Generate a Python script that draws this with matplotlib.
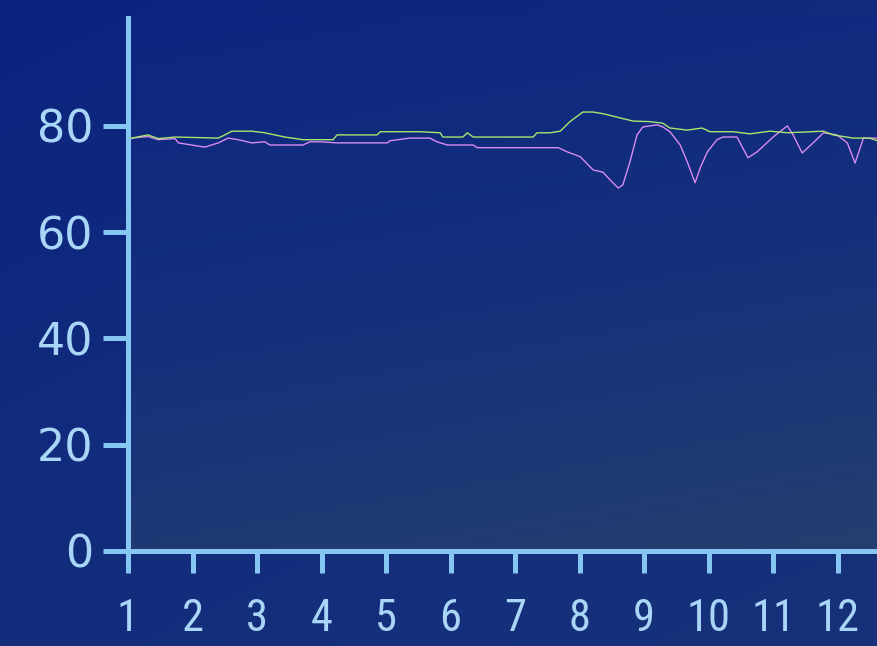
import numpy as np
import matplotlib
matplotlib.use("Agg")
import matplotlib.pyplot as plt
from matplotlib.colors import LinearSegmentedColormap
from matplotlib import font_manager

# Series values (x = month position, y = value)
green_x = [1.00, 1.06, 1.31, 1.47, 1.73, 2.40, 2.50, 2.61, 2.92, 3.12, 3.43, 3.71,
           4.18, 4.24, 4.86, 4.91, 5.53, 5.84, 5.88, 6.19, 6.26, 6.35, 7.28, 7.34,
           7.54, 7.70, 7.85, 8.05, 8.21, 8.36, 8.63, 8.83, 9.09, 9.29, 9.40, 9.67,
           9.90, 10.02, 10.38, 10.64, 10.95, 11.22, 11.78, 11.93, 12.24, 12.50, 12.66]
green_y = [77.5, 77.7, 78.3, 77.6, 77.9, 77.7, 78.3, 79.0, 79.0, 78.7, 77.9, 77.4,
           77.4, 78.3, 78.3, 78.9, 78.9, 78.7, 77.9, 77.9, 78.7, 77.9, 77.9, 78.7,
           78.7, 79.0, 80.8, 82.6, 82.6, 82.3, 81.5, 80.9, 80.8, 80.5, 79.6, 79.2,
           79.6, 78.9, 78.9, 78.5, 79.0, 78.7, 79.0, 78.3, 77.7, 77.7, 77.0]

magenta_x = [1.00, 1.06, 1.31, 1.47, 1.73, 1.78, 2.19, 2.40, 2.55, 2.71, 2.92, 3.12,
             3.20, 3.71, 3.82, 3.98, 4.24, 5.02, 5.06, 5.37, 5.68, 5.79, 5.95, 6.35,
             6.41, 7.67, 7.81, 8.01, 8.21, 8.36, 8.50, 8.60, 8.67, 8.78, 8.89, 8.98,
             9.20, 9.29, 9.40, 9.56, 9.67, 9.79, 9.87, 9.98, 10.13, 10.22, 10.44, 10.61,
             10.75, 11.00, 11.22, 11.31, 11.45, 11.62, 11.78, 11.99, 12.15, 12.27, 12.35,
             12.40, 12.66]
magenta_y = [77.0, 77.7, 78.0, 77.4, 77.6, 76.8, 76.0, 76.8, 77.7, 77.4, 76.8, 77.0,
             76.4, 76.4, 77.0, 77.0, 76.8, 76.8, 77.2, 77.7, 77.7, 77.0, 76.4, 76.4,
             75.9, 75.9, 75.1, 74.2, 71.7, 71.3, 69.5, 68.3, 68.9, 73.2, 78.3, 79.8,
             80.2, 79.8, 78.9, 76.4, 73.2, 69.3, 72.1, 75.1, 77.4, 77.9, 77.9, 74.0,
             75.1, 77.9, 80.0, 78.3, 74.9, 76.8, 78.7, 78.3, 76.8, 73.0, 75.9,
             77.7, 77.7]

x_ticks = list(range(1, 13))
y_ticks = [0, 20, 40, 60, 80]

axis_color = "#86c6f2"
label_color = "#a9d6f7"

# narrow font for the month labels if one is available
installed = {f.name for f in font_manager.fontManager.ttflist}
narrow = [n for n in ["Liberation Sans Narrow", "DejaVu Sans Condensed", "Roboto Condensed"]
          if n in installed]
if narrow:
    x_font = dict(family=[narrow[0], "DejaVu Sans"], fontsize=32)
else:
    x_font = dict(family=["Liberation Sans", "DejaVu Sans"], fontsize=29)

fig = plt.figure(figsize=(8.77, 6.46), dpi=100)
fig.patch.set_facecolor("#0e2980")

# Background of the whole figure, a soft gradient
bg = fig.add_axes([0, 0, 1, 1], zorder=0)
bg.axis("off")
gy, gx = np.mgrid[0:1:200j, 0:1:200j]
bg_cmap = LinearSegmentedColormap.from_list("bg", ["#0b247f", "#122c7d", "#17327a"])
bg.imshow(0.6 * gy + 0.4 * gx, cmap=bg_cmap, aspect="auto", extent=(0, 1, 0, 1),
          origin="upper", vmin=0, vmax=1)

ax = fig.add_axes([128 / 877, 95 / 646, 1 - 128 / 877, 533 / 646], zorder=1)
ax.patch.set_alpha(0)

# Plot area gradient (blends into the page at top, greyer blue at bottom)
plot_cmap = LinearSegmentedColormap.from_list("plot", ["#0d2680", "#14307c", "#263f70"])
ax.imshow(0.8 * gy + 0.2 * gx, cmap=plot_cmap, aspect="auto", extent=(0, 1, 0, 1),
          origin="upper", transform=ax.transAxes, zorder=0, vmin=0, vmax=1)

ax.plot(green_x, green_y, color="#a6e66e", lw=1.0, zorder=3)
ax.plot(magenta_x, magenta_y, color="#d98af0", lw=1.0, zorder=2)

ax.set_xlim(1, 12.61)
ax.set_ylim(0, 100.3)
ax.set_xticks(x_ticks)
ax.set_yticks(y_ticks)
ax.set_xticklabels([str(t) for t in x_ticks], **x_font)
ax.set_yticklabels([str(t) for t in y_ticks], fontsize=32)

for side in ["top", "right"]:
    ax.spines[side].set_visible(False)
for side in ["left", "bottom"]:
    ax.spines[side].set_color(axis_color)
    ax.spines[side].set_linewidth(3.6)
    ax.spines[side].set_zorder(4)

ax.tick_params(axis="y", length=18, width=3.6, color=axis_color,
               labelcolor=label_color, pad=7)
ax.tick_params(axis="x", length=16, width=3.6, color=axis_color,
               labelcolor=label_color, pad=18)

fig.savefig("out.png", dpi=100, facecolor=fig.get_facecolor())
